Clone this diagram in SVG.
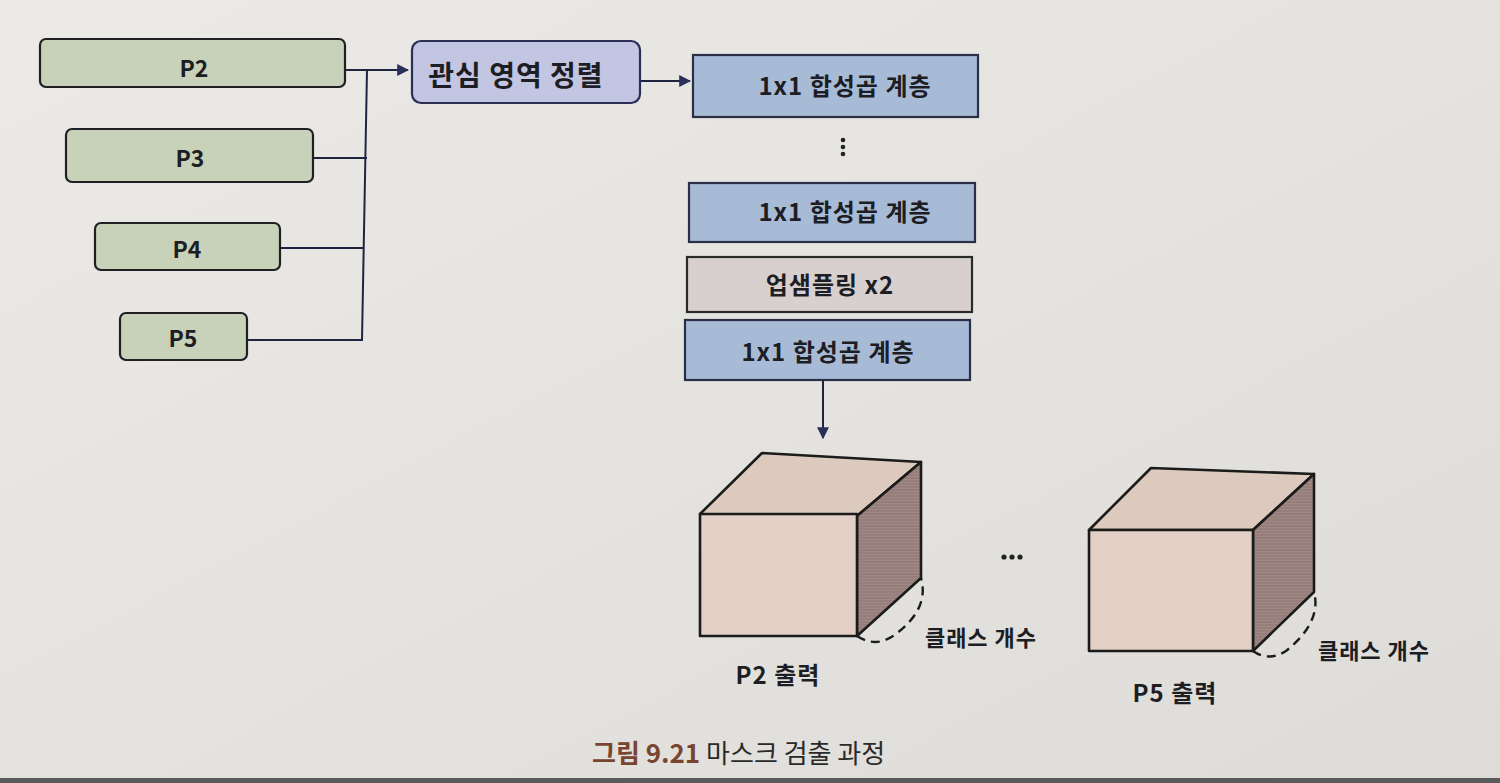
<svg xmlns="http://www.w3.org/2000/svg" width="1500" height="783" viewBox="0 0 1500 783">
<defs>
<style>
.t{font-family:"Noto Sans CJK KR","Noto Sans",sans-serif;font-weight:700;fill:#1d1d24;text-anchor:middle;dominant-baseline:central}
.g{fill:#c8d2b8;stroke:#1f1f24;stroke-width:2.2}
.b{fill:#a8bbd6;stroke:#2a2f45;stroke-width:2.2}
.c{fill:none;stroke:#1f2440;stroke-width:2}
.k{stroke:#1b1b1b;stroke-width:2.6;stroke-linejoin:round}
.m{font-size:24px;letter-spacing:1px}
</style>
<marker id="ah" viewBox="0 0 10 10" refX="9" refY="5" markerWidth="6" markerHeight="6" orient="auto" markerUnits="strokeWidth">
<path d="M0,0 L10,5 L0,10 z" fill="#2a2f5a"/>
</marker>
<linearGradient id="bg" x1="0" y1="0" x2="1" y2="1">
<stop offset="0" stop-color="#ebeae6"/>
<stop offset="1" stop-color="#dddcd8"/>
</linearGradient>
<pattern id="hatch" width="4" height="3" patternUnits="userSpaceOnUse">
<rect width="4" height="3" fill="#a08985"/>
<line x1="0" y1="1" x2="4" y2="1" stroke="#8c7570" stroke-width="1"/>
</pattern>
</defs>
<rect width="1500" height="783" fill="url(#bg)"/>
<rect y="778" width="1500" height="5" fill="#5a5a5a"/>

<g id="connectors">
<polyline class="c" points="345,70 408,70" marker-end="url(#ah)"/>
<polyline class="c" points="313,158 367,158"/>
<polyline class="c" points="280,248 364,248"/>
<polyline class="c" points="247,340 362,340 367,70"/>
<polyline class="c" points="640,81 690,81" marker-end="url(#ah)"/>
<polyline class="c" points="823,380 823,438" marker-end="url(#ah)"/>
</g>

<g id="p2"><rect class="g" x="40" y="39" width="305" height="48" rx="6"/><text class="t" x="194" y="67" font-size="23">P2</text></g>
<g id="p3"><rect class="g" x="66" y="129" width="247" height="53" rx="6"/><text class="t" x="190" y="157" font-size="23">P3</text></g>
<g id="p4"><rect class="g" x="95" y="223" width="185" height="47" rx="6"/><text class="t" x="187" y="248" font-size="23">P4</text></g>
<g id="p5"><rect class="g" x="120" y="313" width="127" height="47" rx="6"/><text class="t" x="183" y="337" font-size="23">P5</text></g>

<g id="roi"><rect x="412" y="41" width="228" height="62" rx="9" fill="#c3c6e2" stroke="#2a2f55" stroke-width="2.2"/><text class="t" x="516" y="74" font-size="28" letter-spacing="1">관심 영역 정렬</text></g>

<g id="conv1"><rect class="b" x="693" y="55" width="285" height="62"/><text class="t m" x="845" y="84">1x1 합성곱 계층</text></g>
<g id="vdots"><circle cx="843" cy="140" r="2.3" fill="#222"/><circle cx="843" cy="147" r="2.3" fill="#222"/><circle cx="843" cy="154" r="2.3" fill="#222"/></g>
<g id="conv2"><rect class="b" x="689" y="183" width="286" height="59"/><text class="t m" x="845" y="210">1x1 합성곱 계층</text></g>
<g id="up"><rect x="687" y="257" width="285" height="55" fill="#d8d0cf" stroke="#2a2a2a" stroke-width="2.2"/><text class="t m" x="830" y="283">업샘플링 x2</text></g>
<g id="conv3"><rect class="b" x="685" y="320" width="285" height="60"/><text class="t m" x="828" y="350">1x1 합성곱 계층</text></g>

<g id="cube1">
<polygon class="k" points="700,514 762,453 921,462 857,516" fill="#dccabf"/>
<polygon class="k" points="857,516 921,462 921,578 857,636" fill="url(#hatch)"/>
<rect class="k" x="700" y="514" width="157" height="122" fill="#e2cfc5"/>
<path d="M857,636 Q875,648 893,636 Q930,610 921,578" fill="none" stroke="#1b1b1b" stroke-width="2.4" stroke-dasharray="9,6"/>
<text class="t" x="981" y="636" font-size="22" letter-spacing="1">클래스 개수</text>
<text class="t" x="778" y="673" font-size="24" letter-spacing="1">P2 출력</text>
</g>

<g id="hdots"><circle cx="1004" cy="557" r="2.6" fill="#222"/><circle cx="1012" cy="557" r="2.6" fill="#222"/><circle cx="1020" cy="557" r="2.6" fill="#222"/></g>

<g id="cube2">
<polygon class="k" points="1089,530 1151,468 1314,474 1253,530" fill="#dccabf"/>
<polygon class="k" points="1253,530 1314,474 1314,592 1253,651" fill="url(#hatch)"/>
<rect class="k" x="1089" y="530" width="164" height="121" fill="#e2cfc5"/>
<path d="M1253,651 Q1268,662 1286,651 Q1322,622 1314,592" fill="none" stroke="#1b1b1b" stroke-width="2.4" stroke-dasharray="9,6"/>
<text class="t" x="1374" y="649" font-size="22" letter-spacing="1">클래스 개수</text>
<text class="t" x="1175" y="691" font-size="24" letter-spacing="1">P5 출력</text>
</g>

<g id="caption">
<text x="592" y="751" font-family="'Noto Sans CJK KR','Noto Sans',sans-serif" font-size="26" dominant-baseline="central"><tspan fill="#7a4530" font-weight="700">그림 9.21</tspan><tspan fill="#2a2a2a" font-weight="400"> 마스크 검출 과정</tspan></text>
</g>
</svg>
